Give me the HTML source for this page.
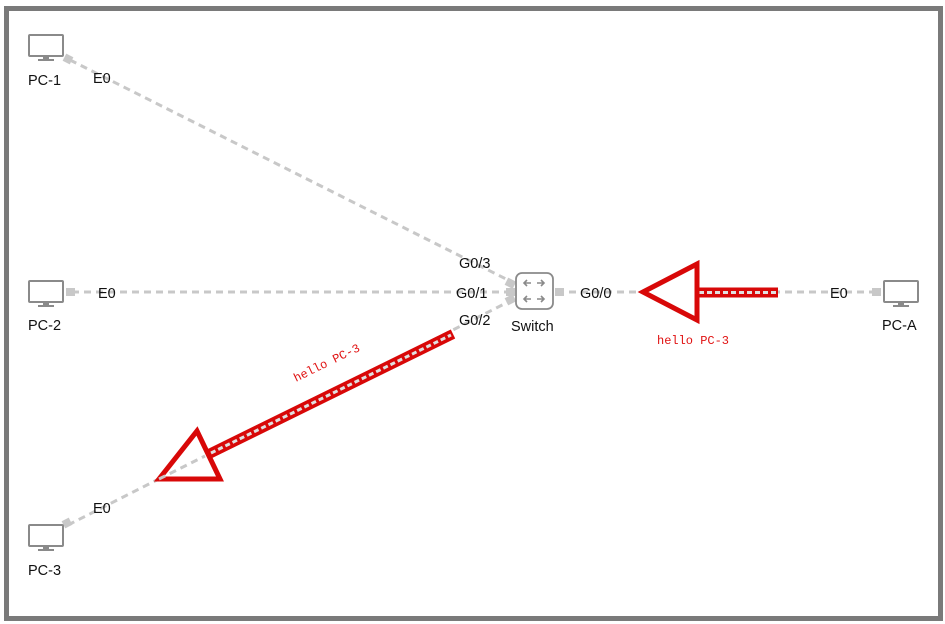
<!DOCTYPE html>
<html><head><meta charset="utf-8"><style>
html,body{margin:0;padding:0;background:#fff;}
svg{display:block;}
text{font-family:"Liberation Sans",sans-serif;font-size:14.5px;fill:#111;}
.m{font-family:"Liberation Mono",monospace;font-size:12px;fill:#e01010;}
</style></head><body>
<svg width="945" height="624" viewBox="0 0 945 624" xmlns="http://www.w3.org/2000/svg">
<rect x="0" y="0" width="945" height="624" fill="#fff"/>
<rect x="6.5" y="8.5" width="934" height="610" fill="none" stroke="#7a7a7a" stroke-width="5"/>
<g stroke="#c8c8c8" stroke-width="3" stroke-dasharray="7,5" fill="none">
<line x1="70" y1="60" x2="514" y2="283"/>
<line x1="72" y1="292" x2="513" y2="292"/>
<line x1="68" y1="525" x2="514" y2="299"/>
<line x1="557" y1="292" x2="877" y2="292"/>
</g>
<g fill="#c8c8c8">
<rect x="64" y="55" width="8" height="8" transform="rotate(27 68 59)"/>
<rect x="66" y="288" width="9" height="8"/>
<rect x="63" y="519" width="8" height="8" transform="rotate(-27 67 523)"/>
<rect x="872" y="288" width="9" height="8"/>
<rect x="506" y="279" width="9" height="8" transform="rotate(27 510 283)"/>
<rect x="506" y="288" width="9" height="8"/>
<rect x="506" y="296" width="9" height="8" transform="rotate(-27 510 300)"/>
<rect x="555" y="288" width="9" height="8"/>
</g>
<g fill="none" stroke="#8a8a8a" stroke-width="2">
<rect x="29" y="35" width="34" height="21" rx="1"/>
<rect x="29" y="281" width="34" height="21" rx="1"/>
<rect x="29" y="525" width="34" height="21" rx="1"/>
<rect x="884" y="281" width="34" height="21" rx="1"/>
</g>
<g fill="#8a8a8a">
<rect x="43" y="56" width="6" height="3"/><rect x="38" y="59" width="16" height="2"/>
<rect x="43" y="302" width="6" height="3"/><rect x="38" y="305" width="16" height="2"/>
<rect x="43" y="546" width="6" height="3"/><rect x="38" y="549" width="16" height="2"/>
<rect x="898" y="302" width="6" height="3"/><rect x="893" y="305" width="16" height="2"/>
</g>
<rect x="516" y="273" width="37" height="36" rx="6" fill="#fff" stroke="#8a8a8a" stroke-width="1.8"/>
<g stroke="#8a8a8a" stroke-width="1.6" fill="none">
<path d="M524 283h7M527 280l-3 3 3 3"/><path d="M537 283h7M541 280l3 3-3 3"/>
<path d="M524 299h7M527 296l-3 3 3 3"/><path d="M537 299h7M541 296l3 3-3 3"/>
</g>
<text x="28" y="85">PC-1</text>
<text x="28" y="330">PC-2</text>
<text x="28" y="575">PC-3</text>
<text x="882" y="330">PC-A</text>
<text x="511" y="331">Switch</text>
<text x="93" y="83">E0</text>
<text x="98" y="298">E0</text>
<text x="93" y="513">E0</text>
<text x="830" y="298">E0</text>
<text x="459" y="268">G0/3</text>
<text x="456" y="298">G0/1</text>
<text x="459" y="325">G0/2</text>
<text x="580" y="298">G0/0</text>
<line x1="697" y1="292.5" x2="778" y2="292.5" stroke="#d80808" stroke-width="10"/>
<line x1="699" y1="292.5" x2="776" y2="292.5" stroke="#e0e0e0" stroke-width="3" stroke-dasharray="5,3"/>
<polygon points="643,292 697,264 697,320" fill="#fff" stroke="#d80808" stroke-width="5"/>
<line x1="209" y1="454" x2="453" y2="334" stroke="#d80808" stroke-width="10"/>
<line x1="211" y1="453" x2="451" y2="335" stroke="#e0e0e0" stroke-width="3" stroke-dasharray="5,3"/>
<polygon points="159,479 197,431 220,479" fill="#fff" stroke="#d80808" stroke-width="5"/>
<line x1="159" y1="479" x2="205" y2="456" stroke="#c8c8c8" stroke-width="3" stroke-dasharray="7,5"/>
<text class="m" x="657" y="344">hello PC-3</text>
<text class="m" x="0" y="0" transform="translate(296,382) rotate(-26)">hello PC-3</text>
</svg>
</body></html>
